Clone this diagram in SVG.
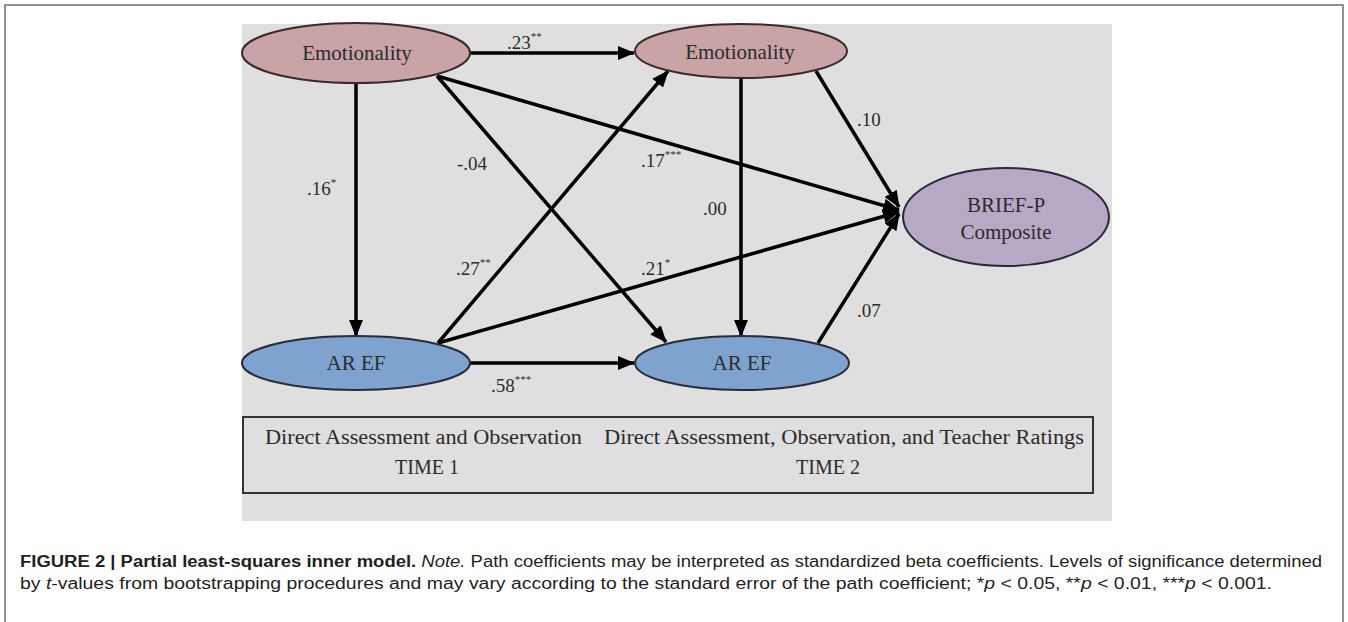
<svg xmlns="http://www.w3.org/2000/svg" width="1348" height="622" viewBox="0 0 1348 622">
<style>
.serif{font-family:"Liberation Serif","Times New Roman",serif;fill:#2b2b2b}
.node{font-size:21px;text-anchor:middle}
.lbl{font-size:19px}
.sup{font-size:11px}
.box{font-size:20px}
.edge{stroke:#000;stroke-width:3.5;fill:none;marker-end:url(#ah)}
.cap{font-family:"Liberation Sans Narrow","Liberation Sans",Arial,sans-serif;font-size:16px;fill:#231f20}
</style>
<defs>
<marker id="ah" markerUnits="userSpaceOnUse" markerWidth="18" markerHeight="14" refX="16" refY="7" orient="auto" viewBox="0 0 18 14">
<path d="M0,0 L17,7 L0,14 z" fill="#000"/>
</marker>
</defs>
<rect x="0" y="0" width="1348" height="622" fill="#fff"/>
<rect x="5" y="5" width="1338" height="640" fill="none" stroke="#6e6e6e" stroke-width="1.5"/>
<rect x="242" y="24" width="870" height="497" fill="#dfdfdf"/>

<g id="connectors">
<path class="edge" d="M470,53 L634,53"/>
<path class="edge" d="M356,83 L356,336"/>
<path class="edge" d="M437,76 L666,342"/>
<path class="edge" d="M437,76 L899,210"/>
<path class="edge" d="M438,343 L668,71"/>
<path class="edge" d="M438,343 L899,212"/>
<path class="edge" d="M470,363 L634,363"/>
<path class="edge" d="M741,79 L741,336"/>
<path class="edge" d="M816,71 L899,207"/>
<path class="edge" d="M818,343 L899,214"/>
</g>

<g id="emotionality1">
<ellipse cx="356" cy="53" rx="114" ry="30" fill="#c9a3a5" stroke="#3a2a2a" stroke-width="2"/>
<text class="serif node" x="357" y="60">Emotionality</text>
</g>
<g id="emotionality2">
<ellipse cx="741" cy="51" rx="106" ry="27" fill="#c9a3a5" stroke="#3a2a2a" stroke-width="2"/>
<text class="serif node" x="740" y="59">Emotionality</text>
</g>
<g id="aref1">
<ellipse cx="356" cy="363" rx="114" ry="27" fill="#7fa3cf" stroke="#2a2a3a" stroke-width="2"/>
<text class="serif node" x="356" y="370">AR EF</text>
</g>
<g id="aref2">
<ellipse cx="742" cy="363" rx="107" ry="27" fill="#7fa3cf" stroke="#2a2a3a" stroke-width="2"/>
<text class="serif node" x="742" y="370">AR EF</text>
</g>
<g id="briefp">
<ellipse cx="1006" cy="217" rx="103" ry="49" fill="#b7a9c6" stroke="#2a2a3a" stroke-width="2"/>
<text class="serif node" x="1006" y="212">BRIEF-P</text>
<text class="serif node" x="1006" y="239">Composite</text>
</g>

<g id="labels">
<text class="serif lbl" x="507" y="49">.23<tspan class="sup" dy="-9">**</tspan></text>
<text class="serif lbl" x="307" y="195">.16<tspan class="sup" dy="-9">*</tspan></text>
<text class="serif lbl" x="457" y="170">-.04</text>
<text class="serif lbl" x="641" y="167">.17<tspan class="sup" dy="-9">***</tspan></text>
<text class="serif lbl" x="703" y="215">.00</text>
<text class="serif lbl" x="857" y="126">.10</text>
<text class="serif lbl" x="456" y="275">.27<tspan class="sup" dy="-9">**</tspan></text>
<text class="serif lbl" x="641" y="275">.21<tspan class="sup" dy="-9">*</tspan></text>
<text class="serif lbl" x="857" y="317">.07</text>
<text class="serif lbl" x="491" y="392">.58<tspan class="sup" dy="-9">***</tspan></text>
</g>

<g id="time-box">
<rect x="243" y="417" width="850" height="76" fill="none" stroke="#333" stroke-width="2"/>
<text class="serif box" x="265" y="444" textLength="317" lengthAdjust="spacingAndGlyphs">Direct Assessment and Observation</text>
<text class="serif box" x="427" y="474" text-anchor="middle">TIME 1</text>
<text class="serif box" x="604" y="444" textLength="480" lengthAdjust="spacingAndGlyphs">Direct Assessment, Observation, and Teacher Ratings</text>
<text class="serif box" x="828" y="474" text-anchor="middle">TIME 2</text>
</g>

<g id="caption">
<text class="cap" x="20" y="567" textLength="1302" lengthAdjust="spacingAndGlyphs"><tspan font-weight="bold">FIGURE 2 | Partial least-squares inner model.</tspan> <tspan font-style="italic">Note.</tspan> Path coefficients may be interpreted as standardized beta coefficients. Levels of significance determined</text>
<text class="cap" x="20" y="589" textLength="1252" lengthAdjust="spacingAndGlyphs">by <tspan font-style="italic">t</tspan>-values from bootstrapping procedures and may vary according to the standard error of the path coefficient; *<tspan font-style="italic">p</tspan> &lt; 0.05, **<tspan font-style="italic">p</tspan> &lt; 0.01, ***<tspan font-style="italic">p</tspan> &lt; 0.001.</text>
</g>
</svg>
